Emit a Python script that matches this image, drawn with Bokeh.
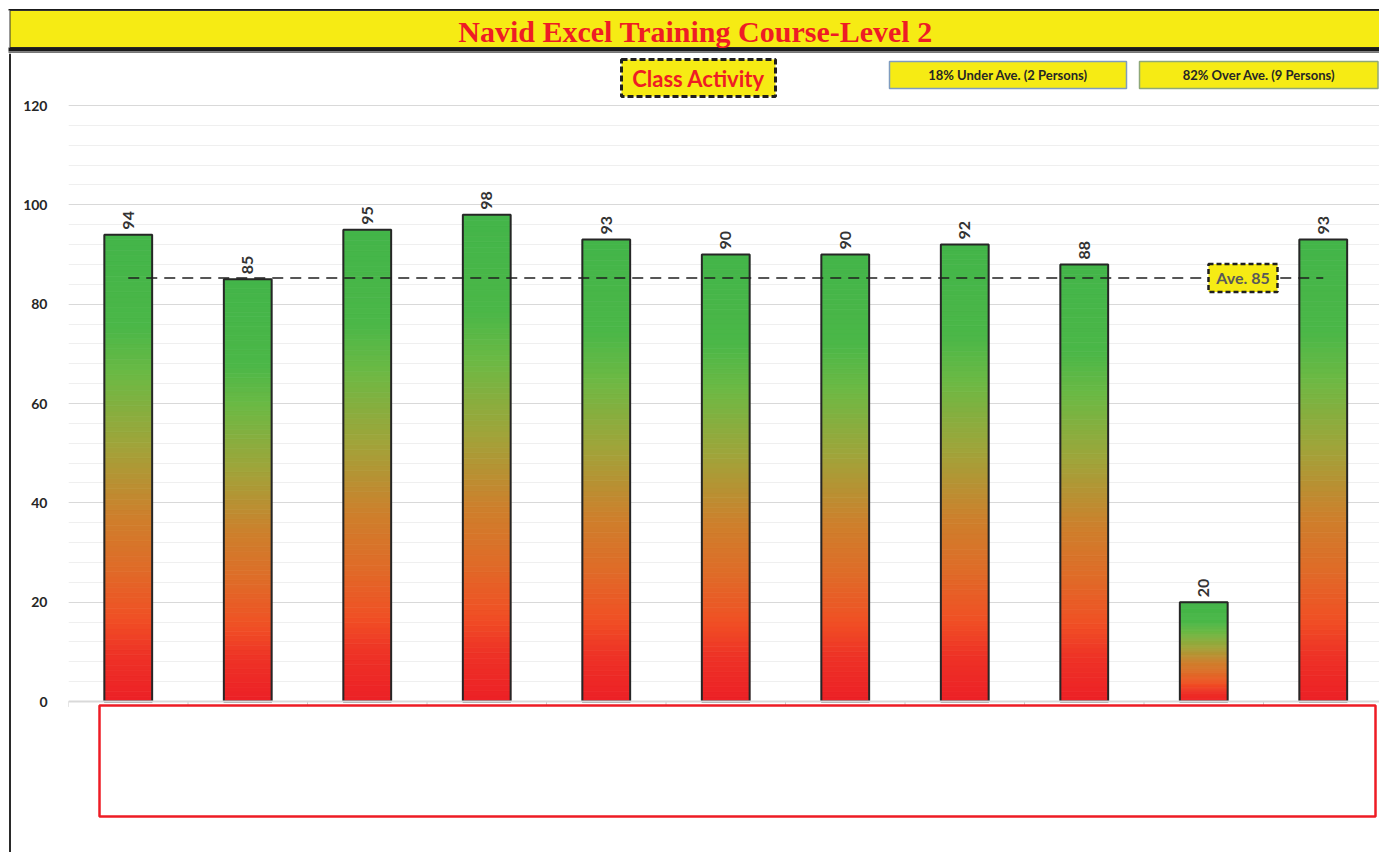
import numpy as np
from bokeh.plotting import figure
from bokeh.layouts import column, row
from bokeh.models import Range1d, FixedTicker, Span, ColumnDataSource
from bokeh.core.properties import value
from bokeh.embed import file_html
from bokeh.resources import INLINE

# ---------------- data ----------------
scores = [94, 85, 95, 98, 93, 90, 90, 92, 88, 20, 93]
y_ticks = [0, 20, 40, 60, 80, 100, 120]
y_minor = list(range(0, 121, 4))
title_text = "Navid Excel Training Course-Level 2"
subtitle_text = "Class Activity"

avg = sum(scores) / len(scores)
n_under = sum(1 for s in scores if s < avg)
n_over = len(scores) - n_under
under_text = f"{round(100 * n_under / len(scores))}% Under Ave. ({n_under} Persons)"
over_text = f"{round(100 * n_over / len(scores))}% Over Ave. ({n_over} Persons)"

# ---------------- geometry / styles ----------------
YELLOW = "#f6eb14"
RED = "#ee1c25"
FONT = "Lato"
PX_CAT = 119.5          # pixels per category
X0_PAGE = 68            # page x of frame left
Y0_PAGE = 701           # page y of value 0
PX_UNIT = 596 / 120     # pixels per y unit
TITLE_H = 53
W_TOTAL = 1379
H_TOTAL = 852
STRIP_W = 11
MAIN_W = W_TOTAL - STRIP_W
MAIN_H = H_TOTAL - TITLE_H


def px2x(px):
    return -0.5 + (px - X0_PAGE) / PX_CAT


def py2y(py):
    return (Y0_PAGE - py) / PX_UNIT


# ---------------- title band (local coords: x = page x, y = TITLE_H - page y) ----------------
tf = figure(width=W_TOTAL, height=TITLE_H, x_range=Range1d(0, W_TOTAL), y_range=Range1d(0, TITLE_H),
            output_backend="svg", toolbar_location=None, min_border=0)
tf.axis.visible = False
tf.grid.visible = False
tf.outline_line_color = None
tf.quad(left=[8], right=[W_TOTAL], bottom=[TITLE_H - 10], top=[TITLE_H - 8.5], fill_color="#1a1a1a", line_color=None)
tf.quad(left=[9.5], right=[W_TOTAL + 2], bottom=[TITLE_H - 47], top=[TITLE_H - 10], fill_color=YELLOW,
        line_color="#333333", line_width=1)
tf.quad(left=[8], right=[W_TOTAL], bottom=[TITLE_H - 51], top=[TITLE_H - 47], fill_color="#1a1a1a", line_color=None)
tf.quad(left=[8], right=[W_TOTAL], bottom=[0], top=[TITLE_H - 51], fill_color="#777777", line_color=None)
tf.text(x=[695], y=[TITLE_H - 31], text=[title_text], text_align="center", text_baseline="middle",
        text_font=value("Liberation Serif"), text_font_style="bold", text_font_size="30px",
        text_color=RED)

# ---------------- left strip with the vertical border line ----------------
sf = figure(width=STRIP_W, height=MAIN_H, x_range=Range1d(0, STRIP_W), y_range=Range1d(0, 1),
            output_backend="svg", toolbar_location=None, min_border=0)
sf.axis.visible = False
sf.grid.visible = False
sf.outline_line_color = None
sf.quad(left=[8.5], right=[10.8], bottom=[0], top=[1], fill_color="#2a2a2a", line_color=None)

# ---------------- main chart ----------------
x_end = px2x(W_TOTAL)
y_top = py2y(TITLE_H)
y_bot = py2y(H_TOTAL)

p = figure(width=MAIN_W, height=MAIN_H, x_range=Range1d(-0.5, x_end), y_range=Range1d(y_bot, y_top),
           output_backend="svg", toolbar_location=None,
           min_border_left=X0_PAGE - STRIP_W, min_border_right=0, min_border_top=0, min_border_bottom=0)
p.xaxis.visible = False
p.xgrid.visible = False
p.outline_line_color = None

p.yaxis.ticker = FixedTicker(ticks=y_ticks, minor_ticks=y_minor)
p.yaxis.axis_line_color = None
p.yaxis.major_tick_line_color = None
p.yaxis.minor_tick_line_color = None
p.yaxis.major_label_standoff = 15
p.yaxis.major_label_text_font = FONT
p.yaxis.major_label_text_font_style = "bold"
p.yaxis.major_label_text_font_size = "14px"
p.yaxis.major_label_text_color = "#262626"
p.ygrid.grid_line_color = "#d9d9d9"
p.ygrid.minor_grid_line_color = "#efefef"

# x axis line at 0
p.add_layout(Span(location=0, dimension="width", line_color="#d9d9d9", line_width=2))
xb = [i + 0.5 for i in range(-1, len(scores))]
p.segment(x0=xb, x1=xb, y0=[0] * len(xb), y1=[-1.1] * len(xb), line_color="#cccccc", line_width=1)

# gradient bars
stops_f = [0.0, 0.2, 0.3, 0.45, 0.6, 0.72, 0.82, 0.9, 1.0]   # fraction from top
stops_c = [(67, 181, 73), (75, 183, 72), (108, 185, 68), (160, 164, 58), (205, 128, 44),
           (224, 106, 40), (240, 80, 37), (238, 50, 38), (236, 32, 38)]
stops_c = np.array(stops_c, dtype=float)


def grad_color(f):
    r = np.interp(f, stops_f, stops_c[:, 0])
    g = np.interp(f, stops_f, stops_c[:, 1])
    b = np.interp(f, stops_f, stops_c[:, 2])
    return "#%02x%02x%02x" % (int(round(r)), int(round(g)), int(round(b)))


BW = 0.40
N = 90
L, R, B, T, C = [], [], [], [], []
for i, v in enumerate(scores):
    for k in range(N):
        L.append(i - BW / 2)
        R.append(i + BW / 2)
        B.append(v * k / N)
        T.append(v * (k + 1) / N)
        C.append(grad_color(1 - (k + 0.5) / N))
p.quad(source=ColumnDataSource(dict(left=L, right=R, bottom=B, top=T, color=C)),
       left="left", right="right", bottom="bottom", top="top",
       fill_color="color", line_color="color", line_width=0.8)
xs = list(range(len(scores)))
p.vbar(x=xs, top=scores, bottom=0, width=BW, fill_color=None, line_color="#262626", line_width=2)

# value labels (rotated)
p.text(x=xs, y=scores, text=[str(s) for s in scores], angle=np.pi / 2,
       text_align="left", text_baseline="middle", x_offset=0, y_offset=-5,
       text_font=value(FONT), text_font_style="bold", text_font_size="16px", text_color="#333333")

# average line
p.line(x=[0, len(scores) - 1], y=[avg, avg], line_color="#1f1f1f", line_width=1.5, line_dash="11 7")

# average label box
p.quad(left=[px2x(1208)], right=[px2x(1277)], bottom=[avg - 14 / PX_UNIT], top=[avg + 14 / PX_UNIT],
       fill_color=YELLOW, line_color="#1f1f1f", line_width=2.5, line_dash="5 3")
p.text(x=[px2x(1242.5)], y=[avg], text=[f"Ave. {round(avg)}"], text_align="center", text_baseline="middle",
       text_font=value(FONT), text_font_style="bold", text_font_size="16px", text_color="#595959")

# class activity box
p.quad(left=[px2x(621)], right=[px2x(775)], bottom=[py2y(96)], top=[py2y(59)],
       fill_color=YELLOW, line_color="#1f1f1f", line_width=3, line_dash="6 3")
p.text(x=[px2x(698)], y=[py2y(77.5)], text=[subtitle_text], text_align="center", text_baseline="middle",
       text_font=value(FONT), text_font_style="bold", text_font_size="22px", text_color=RED)

# under / over boxes
p.quad(left=[px2x(889)], right=[px2x(1126)], bottom=[py2y(88)], top=[py2y(61)],
       fill_color=YELLOW, line_color="#7f9cbf", line_width=1.5)
p.text(x=[px2x(1007.5)], y=[py2y(74.5)], text=[under_text], text_align="center", text_baseline="middle",
       text_font=value(FONT), text_font_style="bold", text_font_size="13px", text_color="#262626")
p.quad(left=[px2x(1139)], right=[px2x(1377.5)], bottom=[py2y(88)], top=[py2y(61)],
       fill_color=YELLOW, line_color="#8fa878", line_width=1.5)
p.text(x=[px2x(1258.5)], y=[py2y(74.5)], text=[over_text], text_align="center", text_baseline="middle",
       text_font=value(FONT), text_font_style="bold", text_font_size="13px", text_color="#262626")

# red frame below the axis
p.quad(left=[px2x(99)], right=[px2x(1375)], bottom=[py2y(816)], top=[py2y(705)],
       fill_color="white", line_color=RED, line_width=2.5)

layout = column(tf, row(sf, p, spacing=0), spacing=0)
open("out.html", "w").write(file_html(layout, INLINE))
